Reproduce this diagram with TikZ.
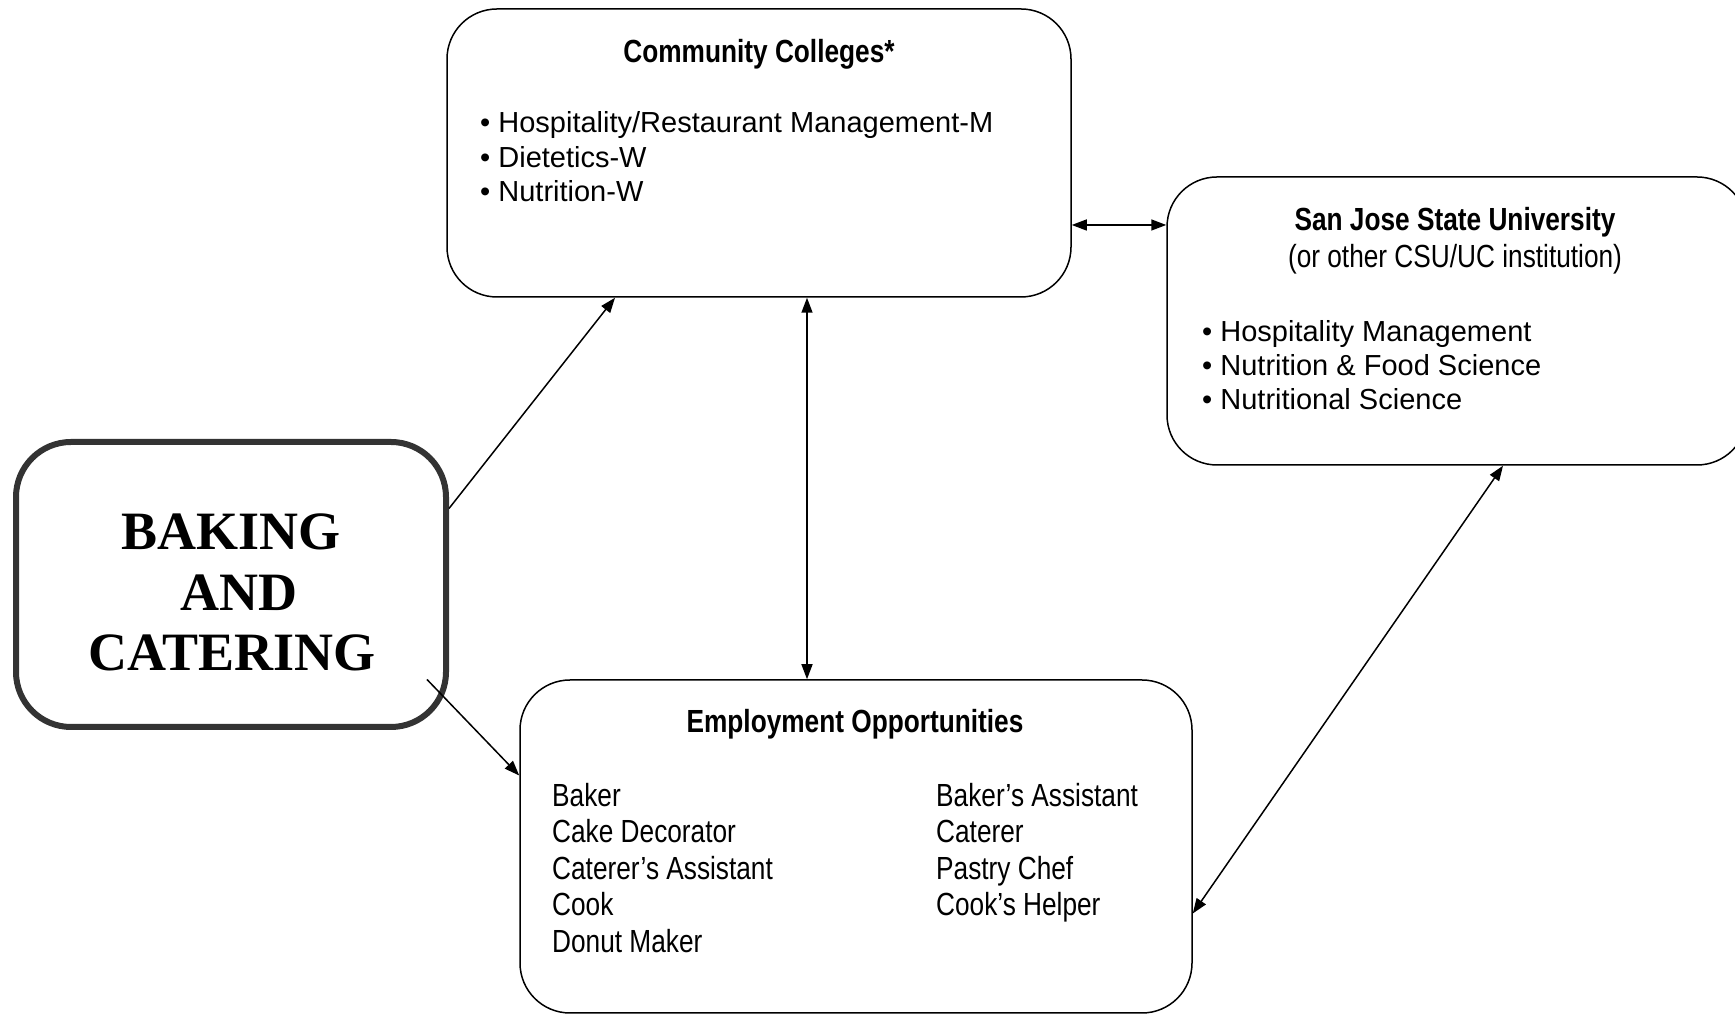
\documentclass[tikz,border=0pt]{standalone}
\usepackage{fontspec}
\setmainfont{Liberation Sans}
\newfontfamily\narrowfont[FakeStretch=0.82]{Liberation Sans}
\newfontfamily\serifbold{Liberation Serif}
\usetikzlibrary{arrows.meta, positioning}

\begin{document}
\begin{tikzpicture}[x=1pt, y=1pt,
	box/.style={draw, rounded corners=50pt, line width=1.5pt, inner sep=0pt},
	mainbox/.style={draw=black!80, rounded corners=55pt, line width=6pt, inner sep=0pt},
	head/.style={font=\narrowfont\bfseries\fontsize{32}{36}\selectfont, anchor=base, inner sep=0pt},
	sub/.style={font=\narrowfont\fontsize{32}{36}\selectfont, anchor=base, inner sep=0pt},
	item/.style={font=\fontsize{29}{34}\selectfont, anchor=base west, inner sep=0pt},
	job/.style={font=\narrowfont\fontsize{32}{36}\selectfont, anchor=base west, inner sep=0pt},
	big/.style={font=\serifbold\bfseries\fontsize{54}{60}\selectfont, anchor=base, inner sep=0pt},
	arrow/.style={-{Triangle[length=15pt, width=11pt]}, line width=1.5pt},
	dblarrow/.style={{Triangle[length=15pt, width=11pt]}-{Triangle[length=15pt, width=11pt]}, line width=1.5pt},
	]
	\useasboundingbox (0,0) rectangle (1735,1016);
	
	% ---- Community Colleges (top) ----
	\node[box, minimum width=624pt, minimum height=288pt] (cc) at (759,863) {};
	\node[head] (ccTitle) at (759,953) {Community Colleges*};
	\node[item] (cc1) at (480,883) {\textbullet{} Hospitality/Restaurant Management-M};
	\node[item] (cc2) at (480,848.5) {\textbullet{} Dietetics-W};
	\node[item] (cc3) at (480,814) {\textbullet{} Nutrition-W};
	
	% ---- San Jose State (right, runs off the page) ----
	\node[box, minimum width=580pt, minimum height=288pt] (sjsu) at (1457,695) {};
	\node[head] (sjsuTitle) at (1455,785) {San Jose State University};
	\node[sub] (sjsuSub) at (1455,748) {(or other CSU/UC institution)};
	\node[item] (sj1) at (1202,674) {\textbullet{} Hospitality Management};
	\node[item] (sj2) at (1202,640.5) {\textbullet{} Nutrition \& Food Science};
	\node[item] (sj3) at (1202,606) {\textbullet{} Nutritional Science};
	
	% ---- Baking and Catering (left) ----
	\node[mainbox, minimum width=430pt, minimum height=285pt] (bake) at (231,431.5) {};
	\node[big] (bake1) at (231,466) {BAKING};
	\node[big] (bake2) at (239,405) {AND};
	\node[big] (bake3) at (232,345.5) {CATERING};
	
	% ---- Employment Opportunities (bottom) ----
	\node[box, minimum width=672pt, minimum height=333pt] (emp) at (856,169.5) {};
	\node[head] (empTitle) at (855,283.5) {Employment Opportunities};
	\node[job] (jobA1) at (552,209) {Baker};
	\node[job] (jobA2) at (552,173) {Cake Decorator};
	\node[job] (jobA3) at (552,136) {Caterer’s Assistant};
	\node[job] (jobA4) at (552,100) {Cook};
	\node[job] (jobA5) at (552,63) {Donut Maker};
	\node[job] (jobB1) at (936,209) {Baker’s Assistant};
	\node[job] (jobB2) at (936,173) {Caterer};
	\node[job] (jobB3) at (936,136) {Pastry Chef};
	\node[job] (jobB4) at (936,100) {Cook’s Helper};
	
	% ---- connectors ----
	\draw[dblarrow] ([yshift=-72pt]cc.east) -- ([yshift=96pt]sjsu.west);
	\draw[dblarrow] ([xshift=48pt]cc.south) -- ([xshift=-49pt]emp.north);
	\draw[arrow] ([yshift=76pt]bake.east) -- ([xshift=-144pt]cc.south);
	\draw[arrow] ([xshift=-22pt, yshift=-95pt]bake.east) -- ([yshift=71pt]emp.west);
	\draw[dblarrow] ([xshift=46pt]sjsu.south) -- ([yshift=-67pt]emp.east);
	
\end{tikzpicture}
\end{document}
